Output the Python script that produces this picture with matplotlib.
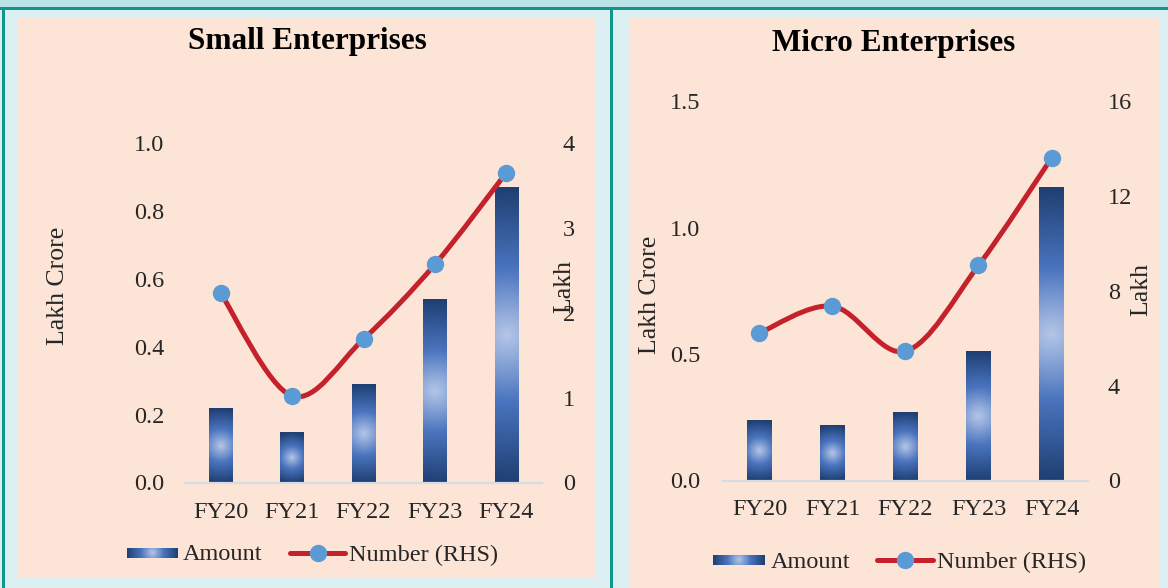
import numpy as np
import matplotlib
matplotlib.use("Agg")
import matplotlib.pyplot as plt
from matplotlib.colors import LinearSegmentedColormap
from matplotlib.patches import Rectangle, PathPatch
from matplotlib.path import Path
from matplotlib.lines import Line2D

plt.rcParams['font.family'] = ['Liberation Serif', 'DejaVu Serif']

years = ['FY20', 'FY21', 'FY22', 'FY23', 'FY24']

# Small enterprises: amount (lakh crore) and number of accounts (lakh)
small_amount = [0.22, 0.15, 0.29, 0.54, 0.87]
small_number = [2.23, 1.02, 1.69, 2.57, 3.65]
small_left_ticks = [0.0, 0.2, 0.4, 0.6, 0.8, 1.0]
small_right_ticks = [0, 1, 2, 3, 4]

# Micro enterprises
micro_amount = [0.24, 0.22, 0.27, 0.51, 1.16]
micro_number = [6.22, 7.35, 5.45, 9.07, 13.59]
micro_left_ticks = [0.0, 0.5, 1.0, 1.5]
micro_right_ticks = [0, 4, 8, 12, 16]

W, H = 1168, 588
PEACH = '#FCE4D6'
CYAN = '#DCF0F3'
TEAL = '#12968A'
RED = '#C4212A'
DOT = '#5B9BD5'
TXT = '#262626'
FS = 17.5

bar_cmap = LinearSegmentedColormap.from_list(
    'barfill', [(0.0, '#B4C6E7'), (0.45, '#4A74BE'), (1.0, '#1F3F73')])


def fx(x):
    return x / W


def fy(y):
    return 1 - y / H


def box(x0, y0, x1, y1):
    return [fx(x0), fy(y1), fx(x1) - fx(x0), fy(y0) - fy(y1)]


def smooth_path(xs, ys):
    # bezier segments with catmull-rom style control points
    pts = np.column_stack([xs, ys]).astype(float)
    p = np.vstack([pts[0], pts, pts[-1]])
    verts = [pts[0]]
    codes = [Path.MOVETO]
    for i in range(1, len(p) - 2):
        c1 = p[i] + (p[i + 1] - p[i - 1]) / 6
        c2 = p[i + 1] - (p[i + 2] - p[i]) / 6
        verts += [c1, c2, p[i + 1]]
        codes += [Path.CURVE4] * 3
    return Path(verts, codes)


def gradient_bars(ax, bars):
    for rect in bars:
        x0, w, h = rect.get_x(), rect.get_width(), rect.get_height()
        (px0, py0) = ax.transData.transform((x0, 0))
        (px1, py1) = ax.transData.transform((x0 + w, h))
        wp, hp = px1 - px0, py1 - py0
        u = np.linspace(-wp / 2, wp / 2, 64)
        v = np.linspace(-hp / 2, hp / 2, 256)
        U, V = np.meshgrid(u, v)
        d = np.clip(np.hypot(U, V) / (hp / 2), 0, 1)
        im = ax.imshow(d, cmap=bar_cmap, vmin=0, vmax=1, origin='lower',
                       extent=(x0, x0 + w, 0, h), aspect='auto',
                       interpolation='bilinear', zorder=2)
        im.set_clip_path(rect)
        rect.set_facecolor('none')


def swatch(fig, x0, y0, x1, y1):
    sax = fig.add_axes(box(x0, y0, x1, y1))
    wp, hp = x1 - x0, y1 - y0
    U, V = np.meshgrid(np.linspace(-wp / 2, wp / 2, 128),
                       np.linspace(-hp / 2, hp / 2, 24))
    d = np.clip(np.hypot(U, V) / (wp / 2), 0, 1)
    sax.imshow(d, cmap=bar_cmap, vmin=0, vmax=1, aspect='auto',
               interpolation='bilinear')
    sax.axis('off')


def legend_line(fig, x0, x1, y):
    fig.add_artist(Line2D([fx(x0), fx(x1)], [fy(y), fy(y)],
                          transform=fig.transFigure, color=RED, lw=3.6,
                          solid_capstyle='round'))
    fig.add_artist(Line2D([fx((x0 + x1) / 2)], [fy(y)],
                          transform=fig.transFigure, marker='o',
                          markersize=11.5, color=DOT, lw=0))


def panel(fig, pos, amount, number, lticks, rticks, pads, lab_l, lab_r):
    ax = fig.add_axes(pos)
    ax.set_facecolor('none')
    x = np.arange(len(years))
    bars = ax.bar(x, amount, width=0.33, zorder=2)
    ax.set_xlim(-0.5, len(years) - 0.5)
    ax.set_ylim(0, lticks[-1])
    gradient_bars(ax, bars)
    ax.set_xlim(-0.5, len(years) - 0.5)
    ax.set_ylim(0, lticks[-1])

    ax.set_xticks(x)
    ax.set_xticklabels(years)
    ax.set_yticks(lticks)
    ax.set_yticklabels(['{:.1f}'.format(t) for t in lticks])
    ax.tick_params(axis='both', length=0, labelsize=FS, colors=TXT)
    ax.tick_params(axis='y', pad=pads[0])
    ax.tick_params(axis='x', pad=pads[2])
    for s in ['top', 'left', 'right']:
        ax.spines[s].set_visible(False)
    ax.spines['bottom'].set_color('#D6DCE4')
    ax.spines['bottom'].set_linewidth(1.6)

    ax2 = ax.twinx()
    ax2.set_ylim(0, rticks[-1])
    ax2.set_yticks(rticks)
    ax2.tick_params(axis='y', length=0, labelsize=FS, colors=TXT, pad=pads[1])
    for s in ax2.spines.values():
        s.set_visible(False)
    ax2.add_patch(PathPatch(smooth_path(x, number), fill=False,
                            edgecolor=RED, lw=3.6, capstyle='round',
                            zorder=3))
    ax2.plot(x, number, 'o', color=DOT, markersize=11.5, zorder=4)

    ax.set_ylabel(lab_l[0], fontsize=18.5, color=TXT)
    ax.yaxis.set_label_coords(lab_l[1], lab_l[2])
    ax2.set_ylabel(lab_r[0], fontsize=18.5, color=TXT)
    ax2.yaxis.set_label_coords(lab_r[1], lab_r[2])
    return ax, ax2


fig = plt.figure(figsize=(W / 100, H / 100), dpi=100)
fig.patch.set_facecolor(CYAN)

# frame: top strip, teal rules and the two peach panels
bg = [
    (box(0, 0, W, 7), '#BCE3E7'),
    (box(0, 7, W, 10), TEAL),
    (box(2, 7, 5, H), TEAL),
    (box(610, 7, 613, H), TEAL),
    (box(18, 17.5, 595, 577), PEACH),
    (box(630, 17.5, 1159, H), PEACH),
]
for b, c in bg:
    fig.add_artist(Rectangle((b[0], b[1]), b[2], b[3], transform=fig.transFigure,
                             facecolor=c, edgecolor='none', zorder=-10))

panel(fig, box(185, 143, 542, 482.5), small_amount, small_number,
      small_left_ticks, small_right_ticks, (15, 15, 14),
      ('Lakh Crore', -0.326, 0.579), ('Lakh', 1.031, 0.576))
panel(fig, box(723, 101, 1088, 480.5), micro_amount, micro_number,
      micro_left_ticks, micro_right_ticks, (16.5, 14.4, 13),
      ('Lakh Crore', -0.170, 0.489), ('Lakh', 1.117, 0.502))

fig.text(fx(307), fy(42), 'Small Enterprises', ha='center', va='center',
         fontsize=22.5, fontweight='bold', color='black')
fig.text(fx(894), fy(44), 'Micro Enterprises', ha='center', va='center',
         fontsize=22.5, fontweight='bold', color='black')

# legends
swatch(fig, 127, 548, 178, 558)
fig.text(fx(183), fy(555), 'Amount', ha='left', va='center', fontsize=FS, color=TXT)
legend_line(fig, 290, 345, 553)
fig.text(fx(349), fy(555), 'Number (RHS)', ha='left', va='center', fontsize=FS, color=TXT)

swatch(fig, 713, 555, 765, 565)
fig.text(fx(771), fy(562), 'Amount', ha='left', va='center', fontsize=FS, color=TXT)
legend_line(fig, 877, 933, 560)
fig.text(fx(937), fy(562), 'Number (RHS)', ha='left', va='center', fontsize=FS, color=TXT)

fig.savefig('out.png', dpi=100, facecolor=fig.get_facecolor())
